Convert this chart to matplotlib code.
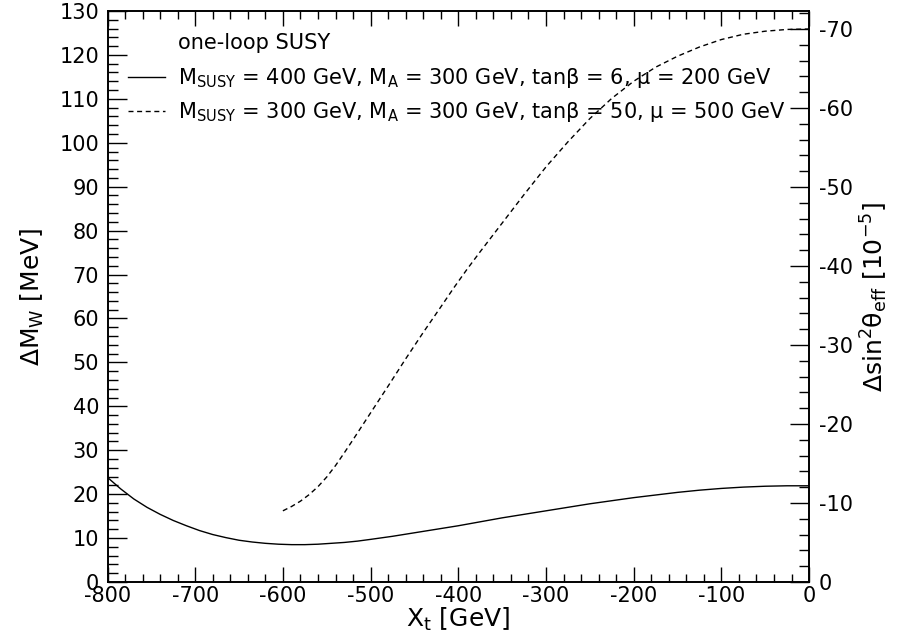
import numpy as np
import matplotlib
matplotlib.use("Agg")
import matplotlib.pyplot as plt
from matplotlib.ticker import MultipleLocator

plt.rcParams['font.family'] = ['DejaVu Sans']
plt.rcParams['mathtext.fontset'] = 'custom'
plt.rcParams['mathtext.rm'] = 'DejaVu Sans'
plt.rcParams['mathtext.it'] = 'DejaVu Sans'
plt.rcParams['mathtext.bf'] = 'DejaVu Sans:bold'
plt.rcParams['axes.unicode_minus'] = False

# one-loop SUSY contributions vs stop mixing X_t
xt_solid = [-800, -785, -770, -755, -740, -725, -710, -695, -680, -665, -650,
            -635, -620, -605, -590, -575, -560, -545, -530, -515, -500, -475,
            -450, -425, -400, -375, -350, -325, -300, -275, -250, -225, -200,
            -175, -150, -125, -100, -75, -50, -25, 0]
dmw_solid = [23.8, 21.2, 18.9, 17.0, 15.4, 14.0, 12.8, 11.7, 10.8, 10.1, 9.5,
             9.1, 8.8, 8.6, 8.5, 8.5, 8.6, 8.8, 9.0, 9.3, 9.7, 10.4,
             11.2, 12.0, 12.8, 13.7, 14.6, 15.4, 16.2, 17.0, 17.8, 18.5, 19.2,
             19.8, 20.4, 20.9, 21.3, 21.6, 21.8, 21.9, 21.9]

xt_dashed = [-600, -590, -580, -570, -560, -550, -540, -530, -520, -500, -480,
             -460, -440, -420, -405, -390, -375, -350, -325, -300, -275, -250,
             -225, -200, -175, -150, -125, -100, -75, -50, -25, 0]
dmw_dashed = [16.2, 17.2, 18.4, 19.9, 21.7, 23.9, 26.5, 29.4, 32.4, 38.5, 44.6,
              50.8, 56.8, 62.6, 67.0, 71.2, 75.2, 81.7, 88.2, 94.5, 100.2, 105.5,
              110.1, 114.0, 117.2, 119.7, 121.8, 123.5, 124.7, 125.4, 125.8, 125.9]

label_solid = r'M$_{\rm SUSY}$ = 400 GeV, M$_{\rm A}$ = 300 GeV, tanβ = 6, μ = 200 GeV'
label_dashed = r'M$_{\rm SUSY}$ = 300 GeV, M$_{\rm A}$ = 300 GeV, tanβ = 50, μ = 500 GeV'

# Delta sin^2 theta_eff [1e-5] per MeV of Delta M_W
sw_per_mw = -0.556

fig = plt.figure(figsize=(9.15, 6.43), dpi=100)
ax = fig.add_axes([0.1175, 0.0949, 0.7667, 0.888])

l1, = ax.plot(xt_solid, dmw_solid, color='black', lw=1.0)
l2, = ax.plot(xt_dashed, dmw_dashed, color='black', lw=1.0, linestyle=(0, (3.6, 2.6)))

ax.set_xlim(-800, 0)
ax.set_ylim(0, 130)
ax.xaxis.set_major_locator(MultipleLocator(100))
ax.xaxis.set_minor_locator(MultipleLocator(20))
ax.yaxis.set_major_locator(MultipleLocator(10))
ax.yaxis.set_minor_locator(MultipleLocator(2))
ax.tick_params(axis='x', which='both', direction='in', top=True, bottom=True,
               labelsize=15, pad=3)
ax.tick_params(axis='x', which='major', length=11, width=1.0)
ax.tick_params(axis='x', which='minor', length=5.5, width=1.0)
ax.tick_params(axis='y', which='both', direction='in', left=True, right=False,
               labelsize=15, pad=6)
ax.tick_params(axis='y', which='major', length=13.5, width=1.0)
ax.tick_params(axis='y', which='minor', length=7, width=1.0)
for s in ax.spines.values():
    s.set_linewidth(1.2)

ax.set_xlabel(r'X$_{\rm t}$ [GeV]', fontsize=18, labelpad=0)
ax.set_ylabel(r'ΔM$_{\rm W}$ [MeV]', fontsize=18, labelpad=10)

ax2 = ax.twinx()
ax2.set_ylim(0, 130 * sw_per_mw)
ax2.yaxis.set_major_locator(MultipleLocator(10))
ax2.yaxis.set_minor_locator(MultipleLocator(2))
ax2.tick_params(axis='y', which='both', direction='in', labelsize=15, pad=7)
ax2.tick_params(axis='y', which='major', length=13.5, width=1.0)
ax2.tick_params(axis='y', which='minor', length=7, width=1.0)
ax2.set_ylabel(r'Δsin$^2$θ$_{\rm eff}$ [10$^{-5}$]', fontsize=18, labelpad=4)
for s in ax2.spines.values():
    s.set_linewidth(1.2)

ax.text(0.1005, 0.944, 'one-loop SUSY', transform=ax.transAxes,
        fontsize=15, va='center', ha='left')
ax.legend([l1, l2], [label_solid, label_dashed], loc='upper left',
          bbox_to_anchor=(0.029, 0.904), frameon=False, fontsize=15,
          borderpad=0, borderaxespad=0, handlelength=1.78,
          handletextpad=0.62, labelspacing=0.5)

fig.savefig('out.png', dpi=100)
